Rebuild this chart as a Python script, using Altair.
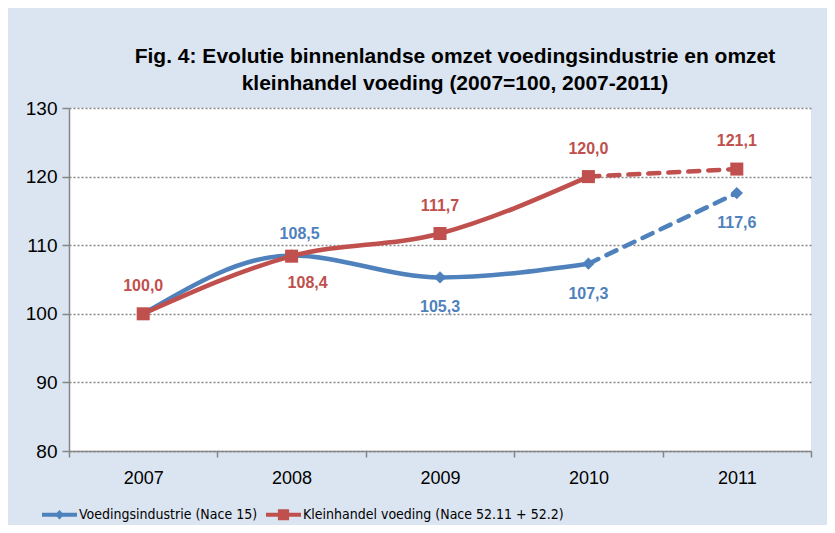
import altair as alt
import pandas as pd

# ---- data ----
years = ["2007", "2008", "2009", "2010", "2011"]
voeding = [100.0, 108.5, 105.3, 107.3, 117.6]
kleinhandel = [100.0, 108.4, 111.7, 120.0, 121.1]
series_names = ["Voedingsindustrie (Nace 15)", "Kleinhandel voeding (Nace 52.11 + 52.2)"]
# where each value label sits relative to its point
label_side_v = ["hidden", "above_r", "below", "below", "below"]
label_side_k = ["above", "below_r", "above", "above", "above"]
y_ticks = [80, 90, 100, 110, 120, 130]

BLUE = "#4f81bd"
RED = "#c0504d"
BG = "#dbe5f1"
FONT = "Liberation Sans"
NARROW = "DejaVu Sans Condensed, Liberation Sans, sans-serif"

rows = []
for s, vals, sides in [(series_names[0], voeding, label_side_v),
                       (series_names[1], kleinhandel, label_side_k)]:
    for yr, v, sd in zip(years, vals, sides):
        rows.append({"year": yr, "value": v, "series": s, "side": sd})
df = pd.DataFrame(rows)

color_scale = alt.Scale(domain=series_names, range=[BLUE, RED])
x_enc = alt.X("year:O", title=None,
              scale=alt.Scale(type="band", paddingInner=0, paddingOuter=0),
              axis=alt.Axis(labelAngle=0, tickBand="extent", labelFontSize=18,
                            labelFont=FONT, labelColor="#000000", labelPadding=12,
                            tickSize=6, tickColor="#868686", domainColor="#868686",
                            domainWidth=1.5, tickWidth=1.5, grid=False))
y_enc = alt.Y("value:Q", title=None,
              scale=alt.Scale(domain=[80, 130], nice=False, zero=False),
              axis=alt.Axis(values=y_ticks, labelFontSize=19, labelFont=FONT,
                            labelColor="#000000", labelPadding=5, tickSize=7,
                            tickColor="#868686", domainColor="#868686", domainWidth=1.5,
                            tickWidth=1.5, grid=True, gridColor="#858585",
                            gridDash=[2, 2], gridWidth=1.3))

base = alt.Chart(df)

def lines_for(name):
    c = alt.Color("series:N", scale=color_scale, legend=None)
    solid = base.mark_line(interpolate="monotone", strokeWidth=4.5, strokeCap="round").encode(
        x=x_enc, y=y_enc, color=c).transform_filter(
        (alt.datum.series == name) & (alt.expr.toNumber(alt.datum.year) <= 2010))
    dashed = base.mark_line(strokeWidth=4.5, strokeDash=[11, 9], strokeCap="round").encode(
        x=x_enc, y=y_enc, color=c).transform_filter(
        (alt.datum.series == name) & (alt.expr.toNumber(alt.datum.year) >= 2010))
    return solid, dashed

b_solid, b_dash = lines_for(series_names[0])
r_solid, r_dash = lines_for(series_names[1])

b_pts = base.mark_point(shape="diamond", filled=True, size=150, opacity=1).encode(
    x=x_enc, y=y_enc, color=alt.Color("series:N", scale=color_scale, legend=None)
).transform_filter(alt.datum.series == series_names[0])
r_pts = base.mark_point(shape="square", filled=True, size=170, opacity=1).encode(
    x=x_enc, y=y_enc, color=alt.Color("series:N", scale=color_scale, legend=None)
).transform_filter(alt.datum.series == series_names[1])

offsets = {"above": (0, -28), "below": (0, 30), "above_r": (8, -21), "below_r": (16, 27)}
label_layers = []
for sd, (dx, dy) in offsets.items():
    label_layers.append(
        base.mark_text(fontWeight="bold", fontSize=16, font=FONT, dx=dx, dy=dy).encode(
            x=x_enc, y=y_enc,
            text="lbl:N",
            color=alt.Color("series:N", scale=color_scale, legend=None),
        ).transform_filter(alt.datum.side == sd).transform_calculate(
            lbl="replace(format(datum.value, '.1f'), '.', ',')")
    )

# legend: line with marker, as filled custom symbols
legend_shapes = [
    "M-1,-0.11H1V0.11H-1Z M0,-0.27L0.27,0L0,0.27L-0.27,0Z",
    "M-1,-0.11H1V0.11H-1Z M-0.32,-0.32H0.32V0.32H-0.32Z",
]
legend_layer = base.mark_point(filled=True, opacity=1, size=1225).encode(
    x=x_enc, y=y_enc,
    color=alt.Color("series:N", scale=color_scale,
                    legend=alt.Legend(title=None, orient="none", direction="horizontal",
                                      legendX=-27, legendY=389, labelFont=NARROW,
                                      labelFontSize=14, labelColor="#000000", symbolSize=1225,
                                      symbolStrokeWidth=0, labelOffset=2, columnPadding=8,
                                      padding=0, labelLimit=400)),
    shape=alt.Shape("series:N", scale=alt.Scale(domain=series_names, range=legend_shapes)),
).transform_filter("false")

chart = alt.layer(
    legend_layer, b_solid, b_dash, b_pts, r_solid, r_dash, r_pts, *label_layers
).properties(
    width=742, height=343,
    title=alt.TitleParams(
        ["Fig. 4: Evolutie binnenlandse omzet voedingsindustrie en omzet",
         "kleinhandel voeding (2007=100, 2007-2011)"],
        font=FONT, fontSize=21, fontWeight="bold", color="#000000",
        anchor="middle", dx=15, offset=5, lineHeight=27),
    background=BG,
    padding={"left": 61, "top": 100, "right": 16, "bottom": 74},
    autosize=alt.AutoSizeParams(type="none"),
).configure_view(fill="white", strokeWidth=0)

chart.save("out.html", embed_options={"renderer": "svg", "actions": False})
